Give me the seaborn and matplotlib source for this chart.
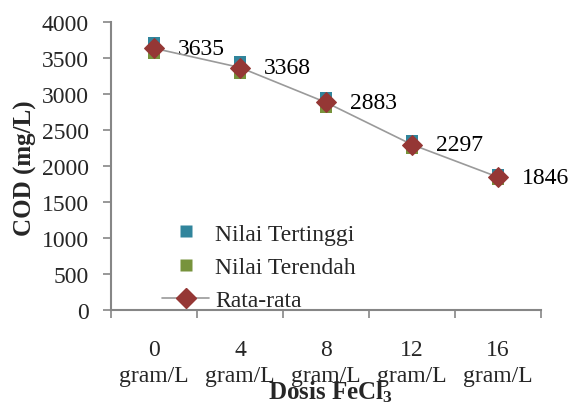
import matplotlib
matplotlib.use("Agg")
import matplotlib.pyplot as plt
from matplotlib.lines import Line2D
import seaborn as sns
import pandas as pd

# COD measurements per FeCl3 dose
doses = ["0", "4", "8", "12", "16"]
nilai_tertinggi = [3700, 3440, 2940, 2345, 1875]
nilai_terendah = [3570, 3296, 2826, 2249, 1817]
rata_rata = [3635, 3368, 2883, 2297, 1846]
y_ticks = [0, 500, 1000, 1500, 2000, 2500, 3000, 3500, 4000]

sns.set_theme(style="white")
plt.rcParams["font.family"] = ["Liberation Serif", "DejaVu Serif"]
plt.rcParams["mathtext.fontset"] = "custom"
plt.rcParams["mathtext.rm"] = "Liberation Serif"
plt.rcParams["mathtext.bf"] = "Liberation Serif:bold"

df = pd.DataFrame({
    "pos": range(len(doses)),
    "high": nilai_tertinggi,
    "low": nilai_terendah,
    "mean": rata_rata,
})

blue = "#31859C"
green = "#77933C"
red = "#953735"
grey_line = "#9A9A9A"
axis_grey = "#868686"

fig = plt.figure(figsize=(5.73, 4.06), dpi=100)
ax = fig.add_axes([111 / 573, 1 - 311 / 406, (541 - 111) / 573, (311 - 23) / 406])

sns.scatterplot(data=df, x="pos", y="high", marker="s", s=80, color=blue,
                edgecolor="none", ax=ax, zorder=3)
sns.scatterplot(data=df, x="pos", y="low", marker="s", s=80, color=green,
                edgecolor="none", ax=ax, zorder=3)
sns.lineplot(data=df, x="pos", y="mean", color=grey_line, linewidth=1.2,
             marker="D", markersize=10, markerfacecolor=red,
             markeredgecolor=red, ax=ax, zorder=4)

for x, v in zip(df["pos"], rata_rata):
    ax.annotate(str(v), (x, v), xytext=(17, 0), textcoords="offset points",
                ha="left", va="center", fontsize=17, color="black",
                annotation_clip=False)

ax.set_xlim(-0.5, len(doses) - 0.5)
ax.set_ylim(0, 4000)
ax.set_yticks(y_ticks)
ax.set_yticklabels([str(t) for t in y_ticks], fontsize=17)

# tick marks sit between categories, labels at category centres
ax.set_xticks([i - 0.5 for i in range(len(doses) + 1)])
ax.set_xticklabels([])
ax.set_xticks(list(range(len(doses))), minor=True)
ax.set_xticklabels([f"{d}\ngram/L" for d in doses], minor=True,
                   fontsize=17, linespacing=1.3)
ax.tick_params(axis="x", which="major", direction="out", length=6,
               width=1.2, color=axis_grey, bottom=True)
ax.tick_params(axis="x", which="minor", length=0, pad=21)
ax.tick_params(axis="y", direction="out", length=6, width=1.2,
               color=axis_grey, left=True, pad=10)

for side in ("top", "right"):
    ax.spines[side].set_visible(False)
for side in ("left", "bottom"):
    ax.spines[side].set_color(axis_grey)
    ax.spines[side].set_linewidth(1.5)

ax.set_xlabel("")
ax.set_ylabel("")
fig.text(25 / 573, 1 - 168 / 406, "COD (mg/L)", rotation=90, ha="center",
         va="center", fontsize=18, fontweight="bold")
fig.text(330 / 573, 1 - 392 / 406, r"Dosis FeCl$\mathbf{_3}$", ha="center",
         va="center", fontsize=18, fontweight="bold")

handles = [
    Line2D([], [], linestyle="none", marker="s", markersize=9,
           markerfacecolor=blue, markeredgecolor="none"),
    Line2D([], [], linestyle="none", marker="s", markersize=9,
           markerfacecolor=green, markeredgecolor="none"),
    Line2D([], [], color=grey_line, linewidth=1.2, marker="D", markersize=10,
           markerfacecolor=red, markeredgecolor=red),
]
fig.legend(handles, ["Nilai Tertinggi", "Nilai Terendah", "Rata-rata"],
           loc="upper left", bbox_to_anchor=(162 / 573, 1 - 224 / 406),
           frameon=False, fontsize=17, handlelength=2.0, handletextpad=0.25,
           labelspacing=0.5, borderpad=0, borderaxespad=0)

fig.savefig("out.png", dpi=100)
